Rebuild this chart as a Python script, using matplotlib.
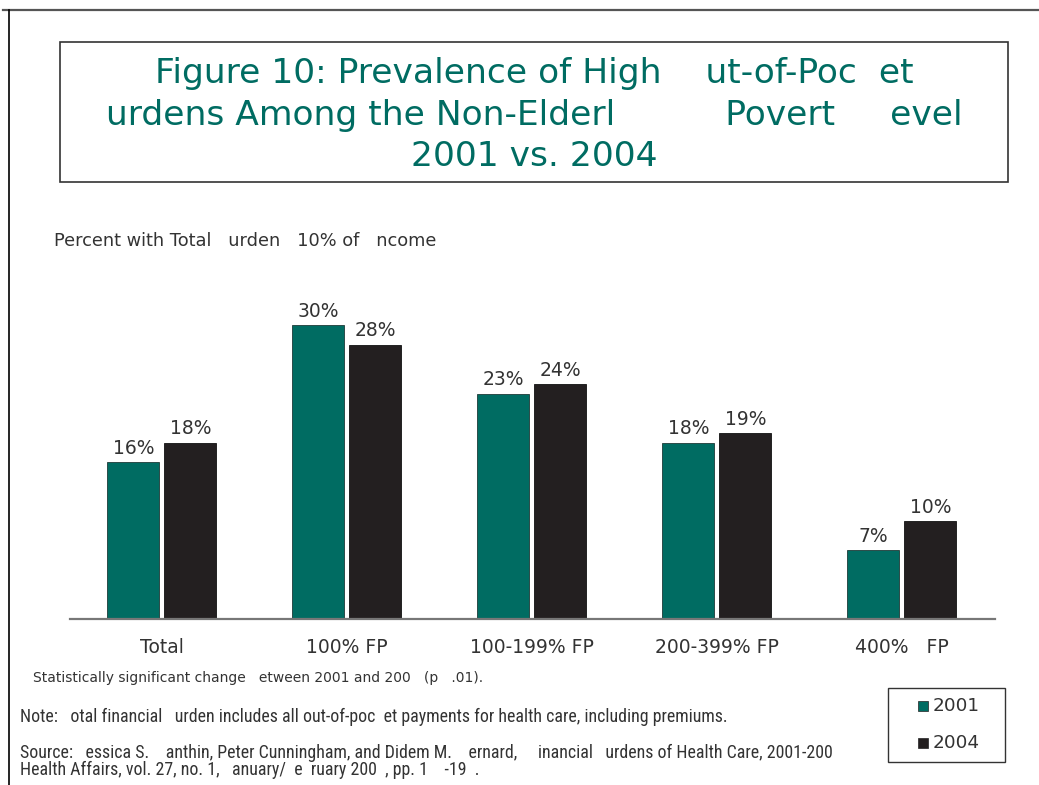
import matplotlib
matplotlib.use("Agg")
import matplotlib.pyplot as plt
from matplotlib.patches import Rectangle
from matplotlib.lines import Line2D

# Data
categories = ["Total", "100% FP", "100-199% FP", "200-399% FP", "400%   FP"]
years = ["2001", "2004"]
values_2001 = [16, 30, 23, 18, 7]
values_2004 = [18, 28, 24, 19, 10]

title_lines = [
    "Figure 10: Prevalence of High    ut-of-Poc  et",
    "urdens Among the Non-Elderl          Povert     evel",
    "2001 vs. 2004",
]
ylabel_text = "Percent with Total   urden   10% of   ncome"
sig_note = "Statistically significant change   etween 2001 and 200   (p   .01)."
note_text = "Note:   otal financial   urden includes all out-of-poc  et payments for health care, including premiums."
source_lines = [
    "Source:   essica S.    anthin, Peter Cunningham, and Didem M.    ernard,     inancial   urdens of Health Care, 2001-200",
    "Health Affairs, vol. 27, no. 1,   anuary/  e  ruary 200  , pp. 1    -19  .",
]

TEAL = "#006c62"
DARK = "#231f20"
TEXT = "#333333"
WIDE = "DejaVu Sans"
NARROW = ["Liberation Sans Narrow", "Roboto Condensed", "DejaVu Sans Condensed", "Roboto"]

W, H = 1039, 785
fig = plt.figure(figsize=(W / 100, H / 100), dpi=100)


def fx(x):
    return x / W


def fy(y):
    return 1 - y / H


# Page frame (top and left rules)
fig.add_artist(Line2D([fx(3), fx(W)], [fy(9.5), fy(9.5)], color="#555555", lw=1.6,
                      transform=fig.transFigure))
fig.add_artist(Line2D([fx(8.5), fx(8.5)], [fy(9.5), fy(H)], color="black", lw=1.2,
                      transform=fig.transFigure))

# Title box
fig.add_artist(Rectangle((fx(60), fy(182)), fx(1008 - 60), (182 - 42) / H,
                         transform=fig.transFigure, fill=False, ec="#333333", lw=1.2))
for i, line in enumerate(title_lines):
    fig.text(fx(534), fy(74 + 41 * i), line, ha="center", va="center",
             fontsize=24.8, color=TEAL, family=WIDE)

# Chart axes: baseline at y=619 px, 9.8 px per percentage point
ymax = 32
ax_left, ax_right, base = 70, 995, 619
ax_h = 9.8 * ymax
ax = fig.add_axes([fx(ax_left), fy(base), fx(ax_right - ax_left), ax_h / H])
ax.set_xlim(-0.497, 4.503)
ax.set_ylim(0, ymax)
ax.patch.set_visible(False)
for s in ["top", "right", "left"]:
    ax.spines[s].set_visible(False)
ax.spines["bottom"].set_color("#777777")
ax.spines["bottom"].set_linewidth(1.6)
ax.set_yticks([])
ax.set_xticks([])

bw = 0.281
off = 0.154
xs = list(range(len(categories)))
b1 = ax.bar([x - off for x in xs], values_2001, width=bw, color=TEAL, ec="#1e3b38", lw=0.6)
b2 = ax.bar([x + off for x in xs], values_2004, width=bw, color=DARK, ec="#111111", lw=0.6)
for bars, vals in ((b1, values_2001), (b2, values_2004)):
    for r, v in zip(bars, vals):
        ax.annotate(f"{v}%", (r.get_x() + r.get_width() / 2, v), xytext=(0, 3),
                    textcoords="offset points", ha="center", va="bottom",
                    fontsize=13.5, color=TEXT, family=WIDE)

for x, c in zip(xs, categories):
    ax.annotate(c, (x, 0), xytext=(0, -20.5), textcoords="offset points",
                ha="center", va="center", fontsize=13.5, color=TEXT, family=WIDE)

# Axis caption
fig.text(fx(54), fy(241), ylabel_text, ha="left", va="center", fontsize=12.8,
         color=TEXT, family=WIDE)

# Footnotes
fig.text(fx(33), fy(678), sig_note, ha="left", va="center", fontsize=10,
         color=TEXT, family=WIDE)
fig.text(fx(20), fy(717), note_text, ha="left", va="center", fontsize=12.9,
         color=TEXT, family=NARROW)
for i, line in enumerate(source_lines):
    fig.text(fx(20), fy(753 + 17 * i), line, ha="left", va="center", fontsize=12.9,
             color=TEXT, family=NARROW)

# Legend box
fig.add_artist(Rectangle((fx(888), fy(762)), fx(1005 - 888), (762 - 688) / H,
                         transform=fig.transFigure, fill=False, ec="#333333", lw=1.0))
for y, col, lab in ((706, TEAL, years[0]), (743, DARK, years[1])):
    fig.add_artist(Rectangle((fx(918), fy(y + 5)), fx(10), 10 / H, transform=fig.transFigure,
                             fc=col, ec="#222222", lw=0.5))
    fig.text(fx(933), fy(y), lab, ha="left", va="center", fontsize=13.3,
             color=TEXT, family=WIDE)

fig.savefig("out.png", dpi=100)
